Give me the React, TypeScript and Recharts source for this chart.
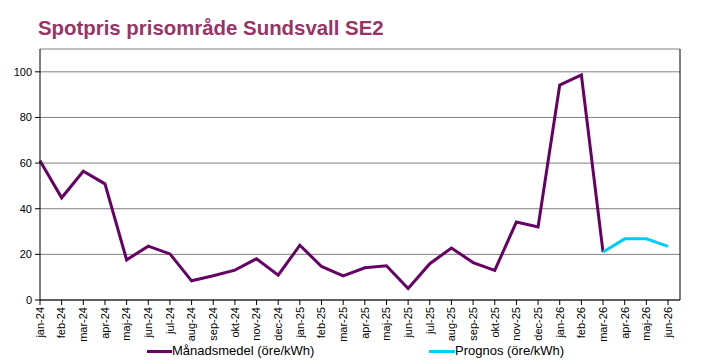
import { LineChart, Line, XAxis, YAxis, CartesianGrid, Legend } from "recharts";

const months = [
  "jan-24", "feb-24", "mar-24", "apr-24", "maj-24", "jun-24", "jul-24", "aug-24", "sep-24", "okt-24",
  "nov-24", "dec-24", "jan-25", "feb-25", "mar-25", "apr-25", "maj-25", "jun-25", "jul-25", "aug-25",
  "sep-25", "okt-25", "nov-25", "dec-25", "jan-26", "feb-26", "mar-26", "apr-26", "maj-26", "jun-26",
];

// månadsmedel, öre/kWh (null = inget utfall ännu)
const monthly = [
  61, 44.8, 56.4, 50.9, 17.6, 23.6, 20.2, 8.4, 10.6, 13.1,
  18.1, 10.9, 24, 14.7, 10.6, 14.1, 15, 5, 15.9, 22.8,
  16.4, 13, 34.2, 32, 94.2, 98.6, 21, null, null, null,
];

// prognos, öre/kWh
const forecast = [
  null, null, null, null, null, null, null, null, null, null,
  null, null, null, null, null, null, null, null, null, null,
  null, null, null, null, null, null, 21, 26.8, 26.8, 23.5,
];

const yTicks = [0, 20, 40, 60, 80, 100];

const PURPLE = "#660066";
const CYAN = "#00ccff";
const FONT = "'Liberation Sans', Arial, sans-serif";

const data = months.map((m, i) => ({ month: m, medel: monthly[i], prognos: forecast[i] }));

const MonthTick = (props: any) => {
  const { x, y, payload } = props;
  return (
    <text
      x={x}
      y={y}
      transform={`rotate(-90 ${x} ${y})`}
      textAnchor="end"
      dy="0.35em"
      fontSize={11}
      fontFamily={FONT}
      fill="#000"
    >
      {payload.value}
    </text>
  );
};

const LegendBox = () => (
  <div style={{ position: "relative", width: 712, height: 20, fontFamily: FONT, fontSize: 13 }}>
    <div style={{ position: "absolute", left: 147, top: 8, width: 25, height: 3, background: PURPLE }} />
    <div style={{ position: "absolute", left: 172, top: 1, lineHeight: "16px" }}>Månadsmedel (öre/kWh)</div>
    <div style={{ position: "absolute", left: 429, top: 8, width: 26, height: 3, background: CYAN }} />
    <div style={{ position: "absolute", left: 455, top: 1, lineHeight: "16px" }}>Prognos (öre/kWh)</div>
  </div>
);

export default function App() {
  return (
    <div style={{ position: "absolute", left: 0, top: 0, width: 712, height: 362, background: "#fff" }}>
      <div
        style={{
          position: "absolute",
          left: 38,
          top: 18,
          fontFamily: FONT,
          fontWeight: "bold",
          fontSize: 20.4,
          lineHeight: "20px",
          color: "#993366",
          whiteSpace: "nowrap",
        }}
      >
        Spotpris prisområde Sundsvall SE2
      </div>
      <LineChart width={712} height={362} data={data} margin={{ top: 49, right: 0, bottom: 0, left: 0 }}>
        <CartesianGrid vertical={false} stroke="#808080" yAxisId="left" />
        <XAxis
          dataKey="month"
          interval={0}
          height={42}
          padding={{ left: 0, right: 12 }}
          tick={<MonthTick />}
          tickSize={5}
          tickMargin={2}
          axisLine={{ stroke: "#000" }}
          tickLine={{ stroke: "#000" }}
        />
        <YAxis
          yAxisId="left"
          width={40}
          domain={[0, 110]}
          ticks={yTicks}
          tickSize={5}
          tickMargin={3}
          axisLine={{ stroke: "#000" }}
          tickLine={{ stroke: "#000" }}
          tick={{ fontSize: 11, fontFamily: FONT, fill: "#000" }}
        />
        <YAxis
          yAxisId="right"
          orientation="right"
          width={32}
          domain={[0, 110]}
          ticks={yTicks}
          tickSize={5}
          tickMargin={3}
          axisLine={{ stroke: "#000" }}
          tickLine={{ stroke: "#000" }}
          tick={{ fontSize: 11, fontFamily: FONT, fill: "#000" }}
        />
        <Legend verticalAlign="bottom" content={<LegendBox />} wrapperStyle={{ left: 0, width: 712 }} />
        <Line
          yAxisId="left"
          type="linear"
          dataKey="medel"
          name="Månadsmedel (öre/kWh)"
          stroke={PURPLE}
          strokeWidth={3}
          dot={false}
          activeDot={false}
          isAnimationActive={false}
        />
        <Line
          yAxisId="left"
          type="linear"
          dataKey="prognos"
          name="Prognos (öre/kWh)"
          stroke={CYAN}
          strokeWidth={3}
          dot={false}
          activeDot={false}
          isAnimationActive={false}
        />
      </LineChart>
    </div>
  );
}
